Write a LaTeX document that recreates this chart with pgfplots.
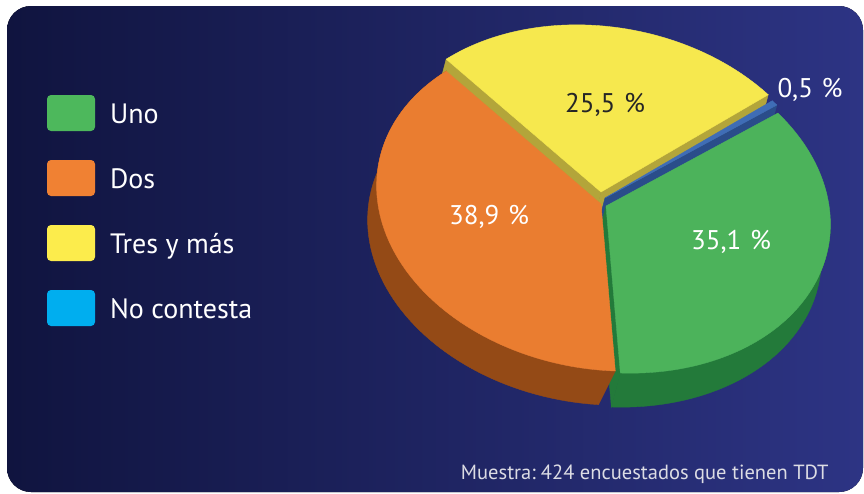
\documentclass[border=0pt]{standalone}
\usepackage{pgfplots}
\pgfplotsset{compat=1.18}
\usepackage{pgfplotstable}
\usepackage{fontspec}
\setmainfont{PT Sans}
\definecolor{bgL}{HTML}{10143F}
\definecolor{bgR}{HTML}{2D3484}
\definecolor{gTop}{HTML}{4CB35B}
\definecolor{gSide}{HTML}{237A3A}
\definecolor{oTop}{HTML}{EA7D30}
\definecolor{oSide}{HTML}{944A16}
\definecolor{yTop}{HTML}{F6E84E}
\definecolor{ySide}{HTML}{B3A53A}
\definecolor{bTop}{HTML}{3F6DB6}
\definecolor{bSide}{HTML}{2A4D8A}
\definecolor{lgG}{HTML}{4DB85C}
\definecolor{lgO}{HTML}{F08133}
\definecolor{lgY}{HTML}{FCEC4C}
\definecolor{lgB}{HTML}{00AEEF}
\definecolor{foot}{HTML}{DCDCE4}

% share of each answer (percent), in the order they go round the pie
\pgfplotstableread{
id   value
Uno  35.1
NC   0.5
Tres 25.5
Dos  38.9
}\piedata

% ellipse of the pie top (image coordinates, y downwards)
\def\EX#1{(603+226*cos(#1)*cos(10)+165*sin(#1)*sin(10))}
\def\EY#1{(202+226*cos(#1)*sin(10)-165*sin(#1)*cos(10))}
\def\dX{-9}\def\dY{34}

\newcommand\radface[4]{% angle, ox, oy, colour
 \pgfmathsetmacro\pAx{603+#2}\pgfmathsetmacro\pAy{202+#3}%
 \pgfmathsetmacro\pRx{\EX{#1}+#2}\pgfmathsetmacro\pRy{\EY{#1}+#3}%
 \pgfmathsetmacro\pSx{\pRx+\dX}\pgfmathsetmacro\pSy{\pRy+\dY}%
 \pgfmathsetmacro\pTx{\pAx+\dX}\pgfmathsetmacro\pTy{\pAy+\dY}%
 \addplot[fill=#4, draw=#4, line width=0.4pt, forget plot]
   coordinates {(\pAx,\pAy) (\pRx,\pRy) (\pSx,\pSy) (\pTx,\pTy)} -- cycle;
}
\newcommand\wall[5]{% a, b, ox, oy, colour
 \addplot[fill=#5, draw=#5, line width=0.4pt, forget plot, domain=0:2, samples=141]
  ({(x<=1 ? \EX{#1+(#2-#1)*x} : \EX{#2-(#2-#1)*(x-1)}+\dX) + #3},
   {(x<=1 ? \EY{#1+(#2-#1)*x} : \EY{#2-(#2-#1)*(x-1)}+\dY) + #4}) -- cycle;
}

\begin{document}%
\begin{tikzpicture}
\pgfplotstablegetelem{0}{value}\of\piedata \let\vUno\pgfplotsretval
\pgfplotstablegetelem{1}{value}\of\piedata \let\vNC\pgfplotsretval
\pgfplotstablegetelem{2}{value}\of\piedata \let\vTres\pgfplotsretval
\pgfplotstablegetelem{3}{value}\of\piedata \let\vDos\pgfplotsretval
\pgfmathsetmacro\aG{-79}
\pgfmathsetmacro\aB{\aG+3.6*\vUno}
\pgfmathsetmacro\aY{\aB+3.6*\vNC}
\pgfmathsetmacro\aO{\aY+3.6*\vTres}
\pgfmathsetmacro\aE{\aO+3.6*\vDos}
\begin{axis}[
  scale only axis, width=864pt, height=493pt,
  xmin=0, xmax=864, ymin=0, ymax=493, y dir=reverse,
  hide axis, clip=false,
  legend cell align=left,
  legend image code/.code={\fill[#1, rounded corners=4pt] (0pt,-17pt) rectangle (48pt,19pt);},
  legend style={at={(axis cs:47,95)}, anchor=north west, draw=none, fill=none,
    inner sep=0pt, outer sep=0pt, row sep=29pt, text=white,
    font=\fontsize{28}{32}\selectfont,
    nodes={inner sep=0pt, outer sep=0pt},
    /tikz/every odd column/.append style={column sep=15pt}},
]
\fill[white] (axis cs:0,0) rectangle (axis cs:864,493);
\fill[left color=bgL, right color=bgR, rounded corners=24pt] (axis cs:7,6) rectangle (axis cs:863,492);

\addlegendimage{fill=lgG, draw=none}\addlegendentry{Uno}
\addlegendimage{fill=lgO, draw=none}\addlegendentry{Dos}
\addlegendimage{fill=lgY, draw=none}\addlegendentry{Tres y más}
\addlegendimage{fill=lgB, draw=none}\addlegendentry{No contesta}

% yellow (Tres y mas), offset (-2,-10)
\radface{\aY}{-2}{-10}{ySide}
\radface{\aO}{-2}{-10}{ySide}
\addplot[fill=yTop, draw=yTop, line width=0.4pt, forget plot, domain=\aY:\aO, samples=80]
  ({\EX{x}-2},{\EY{x}-10}) -- (axis cs:601,192) -- cycle;
% blue (No contesta), offset (2,-4)
\radface{\aB}{2}{-4}{bSide}
\addplot[fill=bTop, draw=bTop, line width=0.4pt, forget plot, domain=\aB:\aY, samples=10]
  ({\EX{x}+2},{\EY{x}-4}) -- (axis cs:605,198) -- cycle;
% green (Uno) sides, offset (3,4)
\wall{\aG}{5}{3}{4}{gSide}
\radface{\aG}{3}{4}{gSide}
% orange (Dos), offset (-2,2)
\wall{\aO}{\aE}{-2}{2}{oSide}
\addplot[fill=oTop, draw=oTop, line width=0.4pt, forget plot, domain=\aO:\aE, samples=100]
  ({\EX{x}-2},{\EY{x}+2}) -- (axis cs:601,204) -- cycle;
% green top
\addplot[fill=gTop, draw=gTop, line width=0.4pt, forget plot, domain=\aG:\aB, samples=100]
  ({\EX{x}+3},{\EY{x}+4}) -- (axis cs:606,206) -- cycle;

\node[text=white, font=\fontsize{27}{30}\selectfont] at (axis cs:489,217) {38,9\hspace{0.32em}\%};
\node[text=white, font=\fontsize{27}{30}\selectfont] at (axis cs:731,242) {35,1\hspace{0.32em}\%};
\node[text=black!85, font=\fontsize{27}{30}\selectfont] at (axis cs:605,105) {25,5\hspace{0.32em}\%};
\node[text=white, font=\fontsize{27}{30}\selectfont] at (axis cs:810,90) {0,5\hspace{0.32em}\%};
\node[text=foot, anchor=base east, font=\fontsize{20.5}{24}\selectfont] at (axis cs:832,479) {Muestra:\hspace{0.25em}424 encuestados que tienen TDT};
\end{axis}
\end{tikzpicture}%
\end{document}
